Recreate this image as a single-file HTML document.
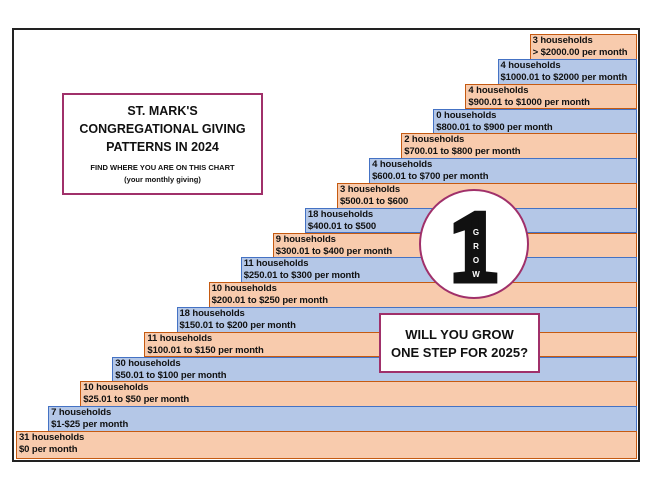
<!DOCTYPE html>
<html><head><meta charset="utf-8"><style>
body{margin:0;width:650px;height:502px;background:#fff;position:relative;overflow:hidden;font-family:"Liberation Sans",sans-serif}
.frame{position:absolute;left:12px;top:28px;width:624px;height:430px;border:2px solid #222}
.bar{position:absolute;box-sizing:border-box;border:1.5px solid;font-weight:bold;font-size:9.5px;line-height:12px;padding:0 0 0 2px;color:#111;white-space:nowrap;letter-spacing:-0.1px}
.o{background:#f8cbad;border-color:#c55a11}
.b{background:#b4c7e7;border-color:#4472c4}
.box{position:absolute;box-sizing:border-box;background:#fff;border:2px solid #a0306a;text-align:center;font-weight:bold;color:#111}
</style></head><body>
<div class="frame"></div>
<div id="bars"></div>
<div class="box" style="left:62px;top:93px;width:201px;height:102px">
<div style="font-size:12.5px;line-height:18px;margin-top:7px">ST. MARK'S<br>CONGREGATIONAL GIVING<br>PATTERNS IN 2024</div>
<div style="font-size:7.5px;line-height:12px;margin-top:6px">FIND WHERE YOU ARE ON THIS CHART<br>(your monthly giving)</div>
</div>
<div class="box" style="left:379px;top:313px;width:161px;height:60px;font-size:13px;line-height:18px;padding-top:11px">WILL YOU GROW<br>ONE STEP FOR 2025?</div>
<svg style="position:absolute;left:0;top:0" width="650" height="502">
<circle cx="474" cy="244" r="54" fill="#fff" stroke="#a0306a" stroke-width="2"/>
<text x="474" y="280" text-anchor="middle" font-family="Liberation Serif,serif" font-weight="bold" font-size="100" fill="#111" stroke="#111" stroke-width="7" stroke-linejoin="miter">1</text>
<g font-family="Liberation Sans,sans-serif" font-weight="bold" font-size="8" fill="#fff" text-anchor="middle">
<text x="476" y="235">G</text><text x="476" y="249">R</text><text x="476" y="263">O</text><text x="476" y="277">W</text></g>
</svg>
<script>
var d=[["31 households","$0 per month"],["7 households","$1-$25 per month"],["10 households","$25.01 to $50 per month"],["30 households","$50.01 to $100 per month"],["11 households","$100.01 to $150 per month"],["18 households","$150.01 to $200 per month"],["10 households","$200.01 to $250 per month"],["11 households","$250.01 to $300 per month"],["9 households","$300.01 to $400 per month"],["18 households","$400.01 to $500"],["3 households","$500.01 to $600"],["4 households","$600.01 to $700 per month"],["2 households","$700.01 to $800 per month"],["0 households","$800.01 to $900 per month"],["4 households","$900.01 to $1000 per month"],["4 households","$1000.01 to $2000 per month"],["3 households","> $2000.00 per month"]];
var h="";
for(var i=16;i>=0;i--){var t=431-24.8*i,l=16+32.1*i,ht=i==0?28:25.5;
h+='<div class="bar '+(i%2?'b':'o')+'" style="left:'+l+'px;top:'+t+'px;width:'+(637-l)+'px;height:'+ht+'px">'+d[i][0]+'<br>'+d[i][1]+'</div>';}
document.getElementById('bars').innerHTML=h;
</script>
</body></html>
